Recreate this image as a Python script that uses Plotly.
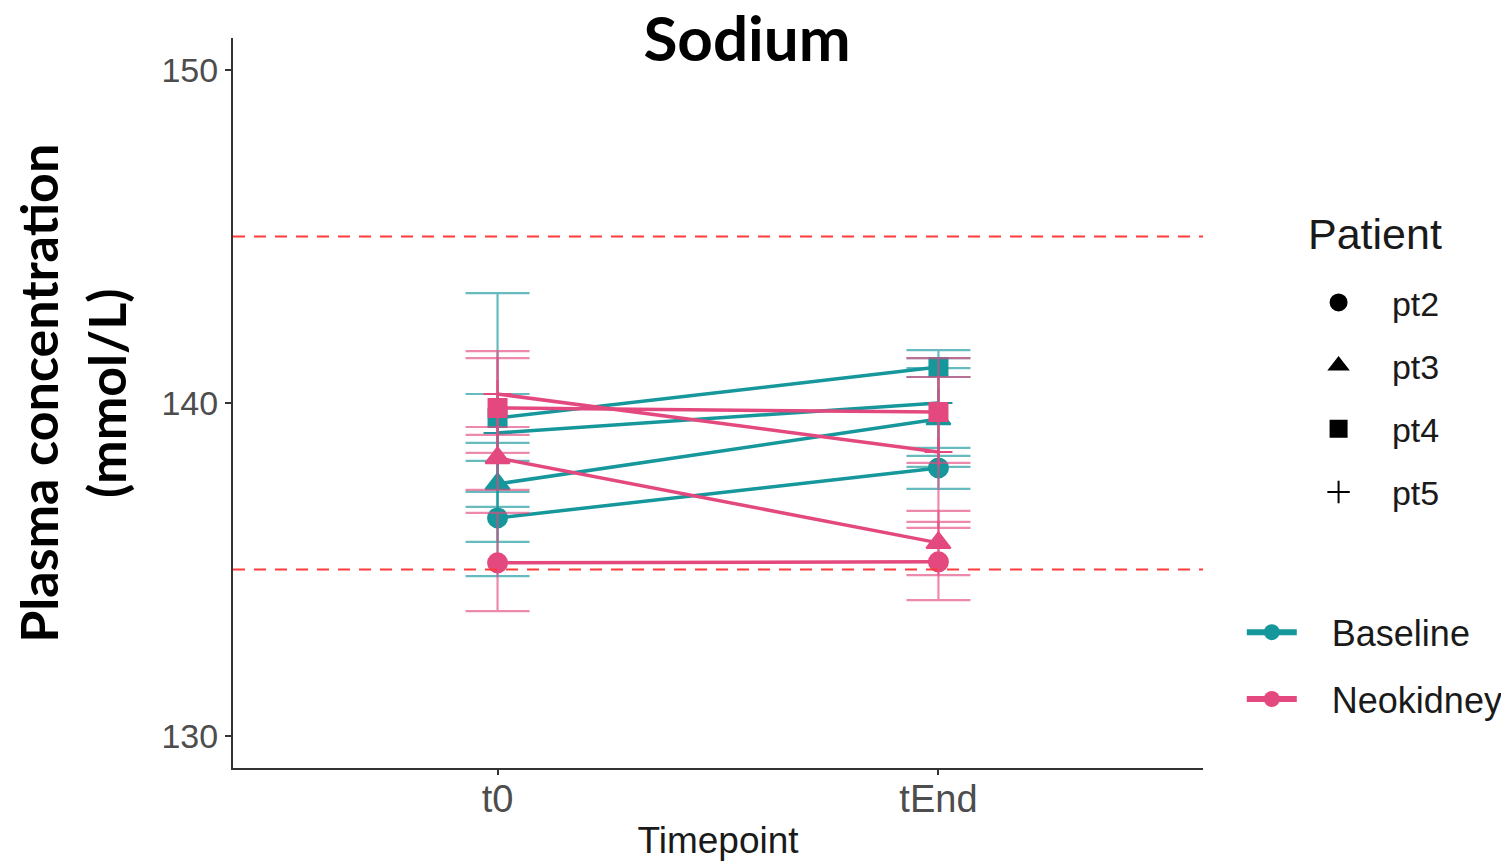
import plotly.graph_objects as go

# ---------------- data ----------------
timepoints = ["t0", "tEnd"]
patients = ["pt2", "pt3", "pt4", "pt5"]
groups = ["Baseline", "Neokidney"]

# Baseline (mean, lower, upper) per patient
base_pt2_mean = [136.55, 138.05]
base_pt2_lo = [134.80, 137.42]
base_pt2_hi = [138.26, 138.65]
base_pt3_mean = [137.57, 139.52]
base_pt3_lo = [136.88, 138.08]
base_pt3_hi = [138.80, 141.05]
base_pt4_mean = [139.55, 141.08]
base_pt4_lo = [135.83, 140.78]
base_pt4_hi = [143.30, 141.35]
base_pt5_mean = [139.10, 140.00]
base_pt5_lo = [137.33, 138.41]
base_pt5_hi = [140.27, 141.59]

# Neokidney
neo_pt2_mean = [135.20, 135.23]
neo_pt2_lo = [133.75, 134.08]
neo_pt2_hi = [136.70, 136.43]
neo_pt3_mean = [138.35, 135.80]
neo_pt3_lo = [137.39, 134.83]
neo_pt3_hi = [139.28, 136.76]
neo_pt4_mean = [139.85, 139.73]
neo_pt4_lo = [138.50, 138.20]
neo_pt4_hi = [141.56, 141.35]
neo_pt5_mean = [140.27, 138.53]
neo_pt5_lo = [139.04, 136.25]
neo_pt5_hi = [141.35, 140.78]

ref_range = [135, 145]
y_ticks = [130, 140, 150]

series = {
    "Baseline": [
        ("pt2", base_pt2_mean, base_pt2_lo, base_pt2_hi),
        ("pt3", base_pt3_mean, base_pt3_lo, base_pt3_hi),
        ("pt4", base_pt4_mean, base_pt4_lo, base_pt4_hi),
        ("pt5", base_pt5_mean, base_pt5_lo, base_pt5_hi),
    ],
    "Neokidney": [
        ("pt2", neo_pt2_mean, neo_pt2_lo, neo_pt2_hi),
        ("pt3", neo_pt3_mean, neo_pt3_lo, neo_pt3_hi),
        ("pt4", neo_pt4_mean, neo_pt4_lo, neo_pt4_hi),
        ("pt5", neo_pt5_mean, neo_pt5_lo, neo_pt5_hi),
    ],
}

# ---------------- styles ----------------
line_col = {"Baseline": "#16979b", "Neokidney": "#e3497f"}
err_col = {"Baseline": "rgba(22,151,155,0.65)", "Neokidney": "rgba(227,73,127,0.65)"}
symbols = {"pt2": "circle", "pt3": "triangle-up", "pt4": "square", "pt5": "cross-thin"}
sizes = {"pt2": 19, "pt3": 21, "pt4": 18, "pt5": 20}
NB = "\u00a0"

fig = go.Figure()

for g in groups:
    for name, mean, lo, hi in series[g]:
        plus = [h - m for h, m in zip(hi, mean)]
        minus = [m - l for m, l in zip(mean, lo)]
        fig.add_trace(go.Scatter(
            x=timepoints, y=mean, mode="lines+markers",
            line=dict(color=line_col[g], width=3.5),
            marker=dict(symbol=symbols[name], size=sizes[name], color=line_col[g],
                        line=dict(width=2, color=line_col[g])),
            error_y=dict(type="data", symmetric=False, array=plus, arrayminus=minus,
                         color=err_col[g], thickness=2.2, width=32),
            showlegend=False, hoverinfo="skip",
        ))

# legend entries: patients (shape)
for p in patients:
    fig.add_trace(go.Scatter(
        x=[None], y=[None], mode="markers", name=NB * 3 + p, legend="legend",
        legendgroup=p,
        marker=dict(symbol=symbols[p], size=22 if p != "pt5" else 30, color="black",
                    line=dict(width=2, color="black")),
    ))
# legend entries: groups (colour)
for g in groups:
    fig.add_trace(go.Scatter(
        x=[None], y=[None], mode="lines+markers", name=NB * 3 + g, legend="legend2",
        legendgroup=g,
        line=dict(color=line_col[g], width=6),
        marker=dict(symbol="circle", size=22, color=line_col[g]),
    ))

for yv in ref_range:
    fig.add_shape(type="line", xref="x domain", x0=0, x1=1, yref="y", y0=yv, y1=yv,
                  line=dict(color="#ff3c3c", width=2.2, dash="12px,9px"))

fig.add_annotation(
    text="<b>Plasma concentration<br>(mmol/L)</b>", textangle=-90,
    xref="paper", yref="paper", x=-0.166, y=0.514, xanchor="center", yanchor="middle",
    showarrow=False, font=dict(family="Lato", size=52, color="black"),
)
fig.add_annotation(
    text="Patient", xref="paper", yref="paper", x=1.106, y=0.732,
    xanchor="left", yanchor="middle", showarrow=False,
    font=dict(family="Liberation Sans", size=43, color="#1a1a1a"),
)

fig.update_layout(
    width=1501, height=857,
    margin=dict(l=225, r=306, t=30, b=97, autoexpand=False),
    paper_bgcolor="white", plot_bgcolor="white",
    title=dict(text="<b>Sodium</b>", x=0.4924, xanchor="center", y=0.964, yanchor="middle",
               font=dict(family="Lato", size=62, color="black")),
    xaxis=dict(type="category", range=[-0.6, 1.6], showgrid=False, zeroline=False,
               showline=True, linecolor="#333333", linewidth=2,
               ticks="outside", ticklen=5, tickcolor="#333333", tickwidth=2,
               ticklabelstandoff=-9,
               tickfont=dict(family="Liberation Sans", size=38, color="#4d4d4d"),
               title=dict(text="Timepoint", font=dict(family="Liberation Sans", size=37, color="#1a1a1a"),
                          standoff=9)),
    yaxis=dict(range=[129.04, 150.96], tickvals=y_ticks, showgrid=False, zeroline=False,
               showline=True, linecolor="#333333", linewidth=2,
               ticks="outside", ticklen=6, tickcolor="#333333", tickwidth=2,
               tickfont=dict(family="Liberation Sans", size=34, color="#4d4d4d")),
    legend=dict(font=dict(family="Liberation Sans", size=34, color="#1a1a1a"),
                x=1.114, xanchor="left", y=0.677, yanchor="top",
                traceorder="grouped", tracegroupgap=16, itemwidth=40,
                bgcolor="rgba(0,0,0,0)"),
    legend2=dict(font=dict(family="Liberation Sans", size=36, color="#1a1a1a"),
                 x=1.040, xanchor="left", y=0.227, yanchor="top",
                 traceorder="grouped", tracegroupgap=17, itemwidth=50,
                 bgcolor="rgba(0,0,0,0)"),
)

fig.write_html("out.html")
